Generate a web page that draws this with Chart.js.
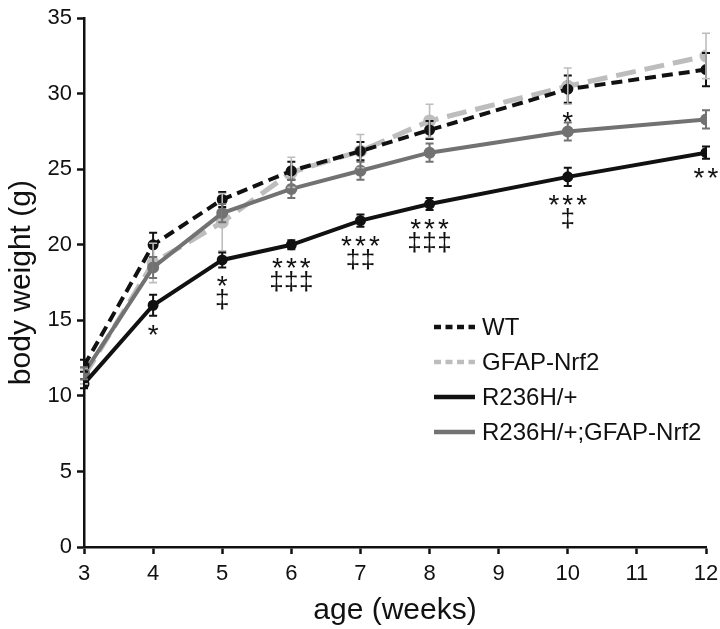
<!DOCTYPE html>
<html lang="en">
  <head>
    <meta charset="UTF-8" />
    <title>body weight | age</title>
    <style>
      html, body { margin: 0; padding: 0; background: #ffffff; }
      canvas { display: block; }
    </style>
  </head>
  <body>
    <canvas id="weightChart" width="720" height="629"></canvas>

    <script src="https://cdn.jsdelivr.net/npm/chart.js"></script>

    <script>
      // weeks where the mice were weighed
      const weeks = [3, 4, 5, 6, 7, 8, 10, 12];
      const xTicks = [3, 4, 5, 6, 7, 8, 9, 10, 11, 12];
      const yTicks = [0, 5, 10, 15, 20, 25, 30, 35];

      const labels = ["WT", "GFAP-Nrf2", "R236H/+", "R236H/+;GFAP-Nrf2"];

      // mean body weight (g)
      const wt = [12.0, 20.0, 23.0, 24.9, 26.2, 27.6, 30.3, 31.6];
      const gfap = [11.3, 18.8, 21.5, 24.8, 26.2, 28.2, 30.5, 32.5];
      const r236h = [10.8, 16.0, 19.0, 20.0, 21.6, 22.7, 24.5, 26.1];
      const r236hGfap = [11.5, 18.5, 22.1, 23.7, 24.9, 26.1, 27.5, 28.3];

      // error (SEM)
      const wtErr = [0.4, 0.8, 0.5, 0.6, 0.6, 0.6, 0.9, 1.1];
      const gfapErr = [0.5, 1.3, 1.9, 1.0, 1.1, 1.1, 1.2, 1.5];
      const r236hErr = [0.3, 0.7, 0.5, 0.3, 0.4, 0.4, 0.6, 0.4];
      const r236hGfapErr = [0.4, 0.7, 0.6, 0.6, 0.6, 0.6, 0.6, 0.6];

      // significance marks (under R236H/+ and above R236H/+;GFAP-Nrf2)
      const starsR236h = ["", "*", "*", "***", "***", "***", "***", "**"];
      const daggersR236h = ["", "", "\u2021", "\u2021\u2021\u2021", "\u2021\u2021", "\u2021\u2021\u2021", "\u2021", ""];
      const starsR236hGfap = ["", "", "", "", "", "", "*", ""];

      const FONT = "'Liberation Sans', Arial, sans-serif";
      const BLACK = "#111111";
      const LIGHT = "#bdbdbd";
      const GREY = "#727272";

      const toPoints = (values) => values.map((v, i) => ({ x: weeks[i], y: v }));

      const errors = [wtErr, gfapErr, r236hErr, r236hGfapErr];

      const errorBars = {
        id: "errorBars",
        afterDatasetsDraw(chart) {
          const ctx = chart.ctx;
          const xs = chart.scales.x;
          const ys = chart.scales.y;
          ctx.save();
          chart.data.datasets.forEach((ds, d) => {
            ctx.strokeStyle = ds.borderColor;
            ctx.lineWidth = d === 1 ? 1.6 : 2;
            ds.data.forEach((p, i) => {
              const x = xs.getPixelForValue(p.x);
              const top = ys.getPixelForValue(p.y + errors[d][i]);
              const bot = ys.getPixelForValue(p.y - errors[d][i]);
              ctx.beginPath();
              ctx.moveTo(x, top);
              ctx.lineTo(x, bot);
              ctx.moveTo(x - 4, top);
              ctx.lineTo(x + 4, top);
              ctx.moveTo(x - 4, bot);
              ctx.lineTo(x + 4, bot);
              ctx.stroke();
            });
          });
          ctx.restore();
        },
      };

      // text with extra spacing, kept centred on x
      function spacedText(ctx, text, x, y, gap) {
        ctx.letterSpacing = gap + "px";
        ctx.fillText(text, x + gap / 2, y);
        ctx.letterSpacing = "0px";
      }

      const marks = {
        id: "marks",
        afterDraw(chart) {
          const ctx = chart.ctx;
          const xs = chart.scales.x;
          const ys = chart.scales.y;
          ctx.save();
          ctx.fillStyle = BLACK;
          ctx.textAlign = "center";
          ctx.textBaseline = "alphabetic";
          weeks.forEach((w, i) => {
            const x = xs.getPixelForValue(w);
            const below = ys.getPixelForValue(r236h[i] - r236hErr[i]);
            const starY = below + 13;
            if (starsR236h[i]) {
              ctx.font = "28px " + FONT;
              spacedText(ctx, starsR236h[i], x, starY + 15, 3);
            }
            if (daggersR236h[i]) {
              ctx.font = "26px " + FONT;
              spacedText(ctx, daggersR236h[i], x, starY + 20 + 8, 0.5);
            }
            if (starsR236hGfap[i]) {
              const above = ys.getPixelForValue(r236hGfap[i] + r236hGfapErr[i]);
              ctx.font = "28px " + FONT;
              spacedText(ctx, starsR236hGfap[i], x, above - 6 + 15, 3);
            }
          });
          ctx.restore();
        },
      };

      const legendBox = {
        id: "legendBox",
        afterDraw(chart) {
          const ctx = chart.ctx;
          const rows = [327, 362, 397, 432];
          ctx.save();
          chart.data.datasets.forEach((ds, i) => {
            const y = rows[i];
            ctx.strokeStyle = ds.borderColor;
            ctx.lineWidth = 4.5;
            ctx.setLineDash(ds.borderDash && ds.borderDash.length ? [7, 4.5] : []);
            ctx.beginPath();
            ctx.moveTo(434, y);
            ctx.lineTo(475, y);
            ctx.stroke();
            ctx.setLineDash([]);
            ctx.fillStyle = BLACK;
            ctx.font = "24px " + FONT;
            ctx.textAlign = "left";
            ctx.textBaseline = "middle";
            ctx.fillText(ds.label, 482, y + 1);
          });
          ctx.restore();
        },
      };

      const ctx = document.getElementById("weightChart");

      new Chart(ctx, {
        type: "line",
        data: {
          datasets: [
            {
              label: labels[0],
              data: toPoints(wt),
              borderColor: BLACK,
              backgroundColor: BLACK,
              borderWidth: 4,
              borderDash: [11, 6],
              pointRadius: 3.5,
              order: 0,
            },
            {
              label: labels[1],
              data: toPoints(gfap),
              borderColor: LIGHT,
              backgroundColor: LIGHT,
              borderWidth: 5,
              borderDash: [20, 9],
              pointRadius: 4,
              order: 3,
            },
            {
              label: labels[2],
              data: toPoints(r236h),
              borderColor: BLACK,
              backgroundColor: BLACK,
              borderWidth: 4,
              pointRadius: 3.5,
              order: 1,
            },
            {
              label: labels[3],
              data: toPoints(r236hGfap),
              borderColor: GREY,
              backgroundColor: GREY,
              borderWidth: 4,
              pointRadius: 4,
              order: 2,
            },
          ],
        },
        options: {
          responsive: false,
          animation: false,
          events: [],
          layout: { padding: { top: 11, right: 14, left: 0, bottom: 0 } },
          plugins: {
            legend: { display: false },
            tooltip: { enabled: false },
          },
          scales: {
            x: {
              type: "linear",
              min: 3,
              max: 12,
              afterBuildTicks: (scale) => {
                scale.ticks = xTicks.map((v) => ({ value: v }));
              },
              afterFit: (scale) => {
                scale.height = 82;
                scale.paddingLeft = 0;
                scale.paddingRight = 0;
              },
              ticks: {
                color: BLACK,
                font: { size: 22, family: FONT },
                padding: 7,
                maxRotation: 0,
              },
              grid: {
                drawOnChartArea: false,
                tickLength: 7,
                tickWidth: 2.5,
                tickColor: BLACK,
              },
              border: { color: BLACK, width: 2.5 },
              title: {
                display: true,
                text: "age (weeks)",
                color: BLACK,
                font: { size: 30, family: FONT },
                padding: { top: 0, bottom: 0 },
              },
            },
            y: {
              min: 0,
              max: 35,
              afterBuildTicks: (scale) => {
                scale.ticks = yTicks.map((v) => ({ value: v }));
              },
              afterFit: (scale) => {
                scale.width = 84;
              },
              ticks: {
                color: BLACK,
                font: { size: 22, family: FONT },
                padding: 5,
              },
              grid: {
                drawOnChartArea: false,
                tickLength: 7,
                tickWidth: 2.5,
                tickColor: BLACK,
              },
              border: { color: BLACK, width: 2.5 },
              title: {
                display: true,
                text: "body weight (g)",
                color: BLACK,
                font: { size: 30, family: FONT },
                padding: { top: 4, bottom: 0 },
              },
            },
          },
        },
        plugins: [errorBars, marks, legendBox],
      });
    </script>
  </body>
</html>
